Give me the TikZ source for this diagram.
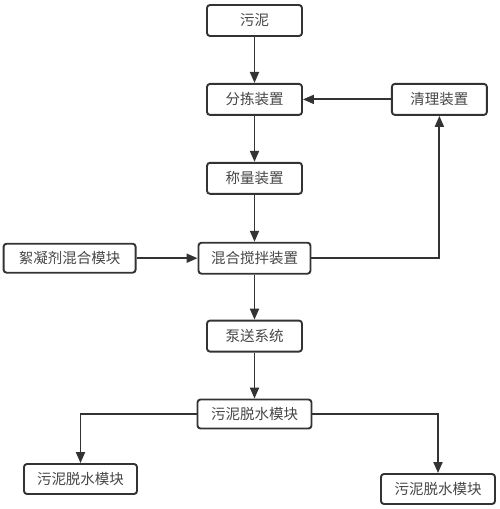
\documentclass[tikz,border=0pt]{standalone}
\usepackage{fontspec}
\newfontfamily\cjk{Noto Sans CJK SC}
\usepackage{tikz}
\usetikzlibrary{positioning,arrows.meta}
\definecolor{myline}{HTML}{333333}
\definecolor{mytext}{HTML}{474747}

\begin{document}
\begin{tikzpicture}
[
  x=1pt, y=1pt,
  unit/.style={rectangle, rounded corners=3pt, draw=myline, line width=1.9pt, fill=white,
    minimum height=31pt, minimum width=#1, inner sep=2pt, text=mytext, font=\cjk\fontsize{14.5}{16}\selectfont},
  unit/.default=95pt,
  flow/.style={draw=myline, line width=1.9pt, -{Triangle[length=11pt,width=9pt]}}
]
\useasboundingbox (0,0) rectangle (500,-509);
\node (sludge) [unit] at (254.5,-20.5) {污泥};
\node (sort) [below=46pt of sludge, unit] {分拣装置};
\node (clean) [right=88pt of sort, unit] {清理装置};
\node (weigh) [below=46pt of sort, unit] {称量装置};
\node (mix) [below=47pt of weigh, unit=112pt] {混合搅拌装置};
\node (floc) [left=61pt of mix, unit=132pt, minimum height=29pt] {絮凝剂混合模块};
\node (pump) [below=45pt of mix, unit] {泵送系统};
\node (dewater) [below=46pt of pump, unit=114pt, minimum height=29pt] {污泥脱水模块};
\node (outa) [unit=113pt, minimum height=30pt] at (80.5,-479) {污泥脱水模块};
\node (outb) [unit=114pt, minimum height=30pt] at (438,-489) {污泥脱水模块};

\foreach \i/\j in {sludge/sort,sort/weigh,weigh/mix,mix/pump,pump/dewater,clean/sort,floc/mix}
  \draw [flow] (\i) -- (\j);
\draw [flow] (mix.east) -| (clean.south);
\draw [flow] (dewater.west) -| (outa.north);
\draw [flow] (dewater.east) -| (outb.north);
\end{tikzpicture}
\end{document}
